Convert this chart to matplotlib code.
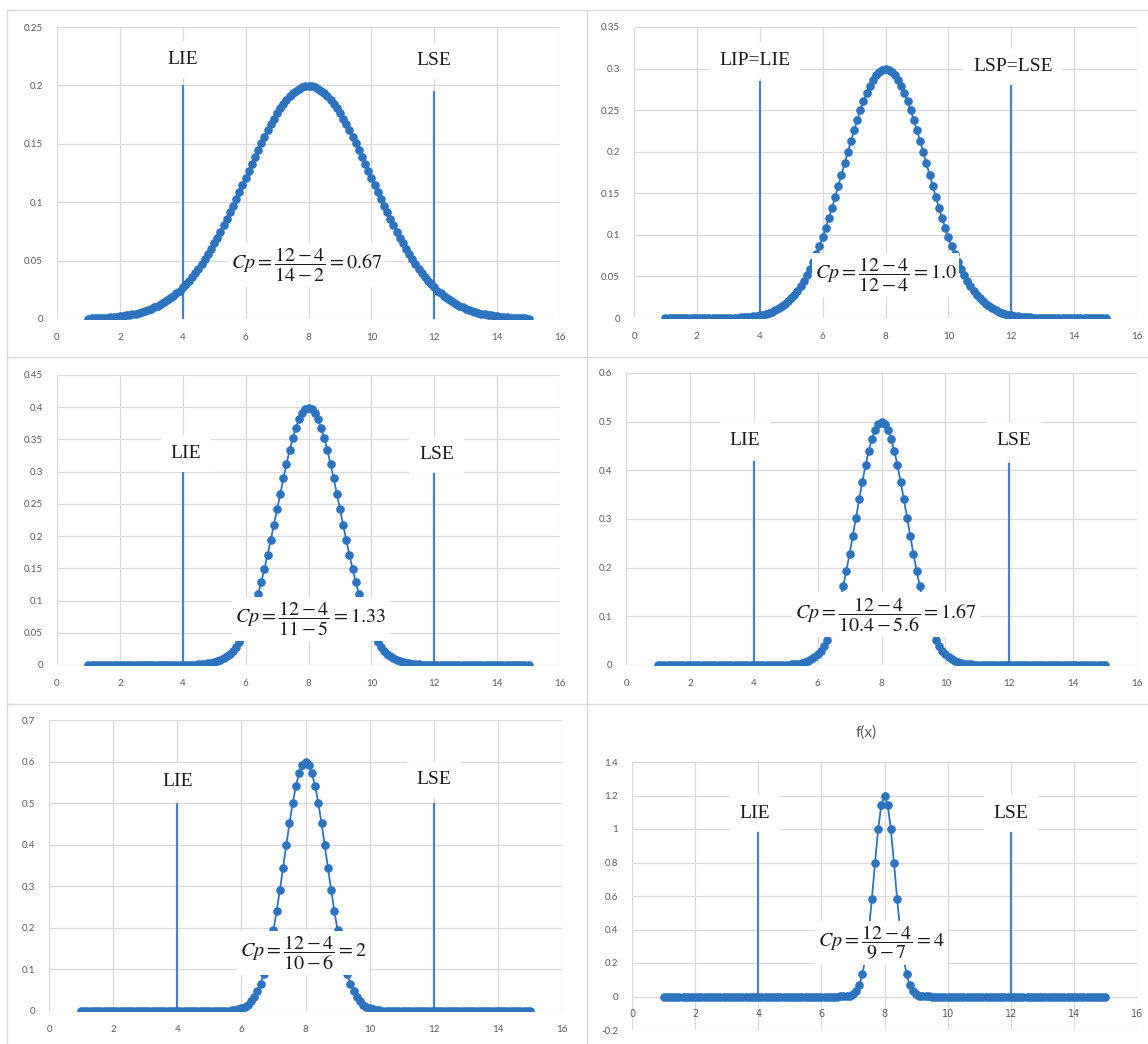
import matplotlib.pyplot as plt
from matplotlib.lines import Line2D
import numpy as np

plt.rcParams['mathtext.fontset'] = 'stix'

# x grid of the f(x) series (1 .. 15, every 0.1)
x_vals = np.linspace(1, 15, 141)

# f(x) values (mean 8)
fx_cp067 = [
    0.0004, 0.0005, 0.0006, 0.0007, 0.0009, 0.0010, 0.0012, 0.0014, 0.0016, 0.0019,
    0.0022, 0.0026, 0.0030, 0.0034, 0.0040, 0.0045, 0.0052, 0.0060, 0.0068, 0.0077,
    0.0088, 0.0099, 0.0112, 0.0126, 0.0142, 0.0159, 0.0177, 0.0198, 0.0220, 0.0244,
    0.0270, 0.0298, 0.0328, 0.0360, 0.0395, 0.0432, 0.0470, 0.0511, 0.0555, 0.0600,
    0.0648, 0.0697, 0.0749, 0.0802, 0.0857, 0.0913, 0.0971, 0.1030, 0.1089, 0.1150,
    0.1210, 0.1270, 0.1331, 0.1390, 0.1449, 0.1506, 0.1562, 0.1615, 0.1666, 0.1715,
    0.1760, 0.1803, 0.1842, 0.1877, 0.1907, 0.1934, 0.1956, 0.1973, 0.1985, 0.1992,
    0.1995,
    0.1992, 0.1985, 0.1973, 0.1956, 0.1934, 0.1907, 0.1877, 0.1842, 0.1803, 0.1760,
    0.1715, 0.1666, 0.1615, 0.1562, 0.1506, 0.1449, 0.1390, 0.1331, 0.1270, 0.1210,
    0.1150, 0.1089, 0.1030, 0.0971, 0.0913, 0.0857, 0.0802, 0.0749, 0.0697, 0.0648,
    0.0600, 0.0555, 0.0511, 0.0470, 0.0432, 0.0395, 0.0360, 0.0328, 0.0298, 0.0270,
    0.0244, 0.0220, 0.0198, 0.0177, 0.0159, 0.0142, 0.0126, 0.0112, 0.0099, 0.0088,
    0.0077, 0.0068, 0.0060, 0.0052, 0.0045, 0.0040, 0.0034, 0.0030, 0.0026, 0.0022,
    0.0019, 0.0016, 0.0014, 0.0012, 0.0010, 0.0009, 0.0007, 0.0006, 0.0005, 0.0004,
]
fx_cp1 = [
    0, 0, 0, 0, 0, 0, 0, 0, 0, 0,
    0, 0, 0, 0, 0, 0.0001, 0.0001, 0.0001, 0.0002, 0.0002,
    0.0003, 0.0004, 0.0005, 0.0006, 0.0008, 0.0010, 0.0013, 0.0016, 0.0021, 0.0026,
    0.0033, 0.0042, 0.0052, 0.0064, 0.0078, 0.0095, 0.0116, 0.0140, 0.0168, 0.0200,
    0.0238, 0.0281, 0.0330, 0.0385, 0.0447, 0.0516, 0.0592, 0.0676, 0.0767, 0.0866,
    0.0971, 0.1084, 0.1203, 0.1327, 0.1456, 0.1589, 0.1724, 0.1860, 0.1996, 0.2129,
    0.2258, 0.2382, 0.2499, 0.2607, 0.2704, 0.2789, 0.2860, 0.2917, 0.2959, 0.2984,
    0.2992,
    0.2984, 0.2959, 0.2917, 0.2860, 0.2789, 0.2704, 0.2607, 0.2499, 0.2382, 0.2258,
    0.2129, 0.1996, 0.1860, 0.1724, 0.1589, 0.1456, 0.1327, 0.1203, 0.1084, 0.0971,
    0.0866, 0.0767, 0.0676, 0.0592, 0.0516, 0.0447, 0.0385, 0.0330, 0.0281, 0.0238,
    0.0200, 0.0168, 0.0140, 0.0116, 0.0095, 0.0078, 0.0064, 0.0052, 0.0042, 0.0033,
    0.0026, 0.0021, 0.0016, 0.0013, 0.0010, 0.0008, 0.0006, 0.0005, 0.0004, 0.0003,
    0.0002, 0.0002, 0.0001, 0.0001, 0.0001, 0, 0, 0, 0, 0,
    0, 0, 0, 0, 0, 0, 0, 0, 0, 0,
]
fx_cp133 = [
    0, 0, 0, 0, 0, 0, 0, 0, 0, 0,
    0, 0, 0, 0, 0, 0, 0, 0, 0, 0,
    0, 0, 0, 0, 0, 0, 0, 0, 0, 0.0001,
    0.0001, 0.0002, 0.0003, 0.0004, 0.0006, 0.0009, 0.0012, 0.0017, 0.0024, 0.0033,
    0.0044, 0.0060, 0.0079, 0.0104, 0.0136, 0.0175, 0.0224, 0.0283, 0.0355, 0.0440,
    0.0540, 0.0656, 0.0790, 0.0940, 0.1109, 0.1295, 0.1497, 0.1714, 0.1942, 0.2179,
    0.2420, 0.2661, 0.2897, 0.3123, 0.3332, 0.3521, 0.3683, 0.3814, 0.3910, 0.3970,
    0.3989,
    0.3970, 0.3910, 0.3814, 0.3683, 0.3521, 0.3332, 0.3123, 0.2897, 0.2661, 0.2420,
    0.2179, 0.1942, 0.1714, 0.1497, 0.1295, 0.1109, 0.0940, 0.0790, 0.0656, 0.0540,
    0.0440, 0.0355, 0.0283, 0.0224, 0.0175, 0.0136, 0.0104, 0.0079, 0.0060, 0.0044,
    0.0033, 0.0024, 0.0017, 0.0012, 0.0009, 0.0006, 0.0004, 0.0003, 0.0002, 0.0001,
    0.0001, 0, 0, 0, 0, 0, 0, 0, 0, 0,
    0, 0, 0, 0, 0, 0, 0, 0, 0, 0,
    0, 0, 0, 0, 0, 0, 0, 0, 0, 0,
]
fx_cp167 = [
    0, 0, 0, 0, 0, 0, 0, 0, 0, 0,
    0, 0, 0, 0, 0, 0, 0, 0, 0, 0,
    0, 0, 0, 0, 0, 0, 0, 0, 0, 0,
    0, 0, 0, 0, 0, 0, 0.0001, 0.0001, 0.0002, 0.0003,
    0.0004, 0.0007, 0.0011, 0.0017, 0.0025, 0.0038, 0.0055, 0.0080, 0.0114, 0.0159,
    0.0219, 0.0297, 0.0397, 0.0522, 0.0675, 0.0860, 0.1079, 0.1332, 0.1619, 0.1938,
    0.2283, 0.2649, 0.3025, 0.3401, 0.3764, 0.4102, 0.4401, 0.4648, 0.4834, 0.4948,
    0.4987,
    0.4948, 0.4834, 0.4648, 0.4401, 0.4102, 0.3764, 0.3401, 0.3025, 0.2649, 0.2283,
    0.1938, 0.1619, 0.1332, 0.1079, 0.0860, 0.0675, 0.0522, 0.0397, 0.0297, 0.0219,
    0.0159, 0.0114, 0.0080, 0.0055, 0.0038, 0.0025, 0.0017, 0.0011, 0.0007, 0.0004,
    0.0003, 0.0002, 0.0001, 0.0001, 0, 0, 0, 0, 0, 0,
    0, 0, 0, 0, 0, 0, 0, 0, 0, 0,
    0, 0, 0, 0, 0, 0, 0, 0, 0, 0,
    0, 0, 0, 0, 0, 0, 0, 0, 0, 0,
]
fx_cp2 = [
    0, 0, 0, 0, 0, 0, 0, 0, 0, 0,
    0, 0, 0, 0, 0, 0, 0, 0, 0, 0,
    0, 0, 0, 0, 0, 0, 0, 0, 0, 0,
    0, 0, 0, 0, 0, 0, 0, 0, 0, 0,
    0, 0, 0.0001, 0.0002, 0.0003, 0.0005, 0.0009, 0.0016, 0.0026, 0.0042,
    0.0066, 0.0103, 0.0156, 0.0232, 0.0336, 0.0476, 0.0660, 0.0894, 0.1184, 0.1534,
    0.1943, 0.2406, 0.2913, 0.3448, 0.3991, 0.4517, 0.4998, 0.5408, 0.5721, 0.5917,
    0.5984,
    0.5917, 0.5721, 0.5408, 0.4998, 0.4517, 0.3991, 0.3448, 0.2913, 0.2406, 0.1943,
    0.1534, 0.1184, 0.0894, 0.0660, 0.0476, 0.0336, 0.0232, 0.0156, 0.0103, 0.0066,
    0.0042, 0.0026, 0.0016, 0.0009, 0.0005, 0.0003, 0.0002, 0.0001, 0, 0,
    0, 0, 0, 0, 0, 0, 0, 0, 0, 0,
    0, 0, 0, 0, 0, 0, 0, 0, 0, 0,
    0, 0, 0, 0, 0, 0, 0, 0, 0, 0,
    0, 0, 0, 0, 0, 0, 0, 0, 0, 0,
]
fx_cp4 = [
    0, 0, 0, 0, 0, 0, 0, 0, 0, 0,
    0, 0, 0, 0, 0, 0, 0, 0, 0, 0,
    0, 0, 0, 0, 0, 0, 0, 0, 0, 0,
    0, 0, 0, 0, 0, 0, 0, 0, 0, 0,
    0, 0, 0, 0, 0, 0, 0, 0, 0, 0,
    0, 0, 0, 0, 0, 0, 0.0002, 0.0006, 0.0018, 0.0052,
    0.0133, 0.0313, 0.0672, 0.1319, 0.2368, 0.3885, 0.5825, 0.7982, 0.9997, 1.1441,
    1.1968,
    1.1441, 0.9997, 0.7982, 0.5825, 0.3885, 0.2368, 0.1319, 0.0672, 0.0313, 0.0133,
    0.0052, 0.0018, 0.0006, 0.0002, 0, 0, 0, 0, 0, 0,
    0, 0, 0, 0, 0, 0, 0, 0, 0, 0,
    0, 0, 0, 0, 0, 0, 0, 0, 0, 0,
    0, 0, 0, 0, 0, 0, 0, 0, 0, 0,
    0, 0, 0, 0, 0, 0, 0, 0, 0, 0,
    0, 0, 0, 0, 0, 0, 0, 0, 0, 0,
]
series = [fx_cp067, fx_cp1, fx_cp133, fx_cp167, fx_cp2, fx_cp4]

# specification limits and their marker heights
lsl, usl = 4, 12
lower_heights = [0.2, 0.285, 0.3, 0.42, 0.5, 0.98]
upper_heights = [0.195, 0.285, 0.3, 0.415, 0.5, 0.98]
lower_labels = ['LIE', 'LIP=LIE', 'LIE', 'LIE', 'LIE', 'LIE']
upper_labels = ['LSE', 'LSP=LSE', 'LSE', 'LSE', 'LSE', 'LSE']
cp_texts = [
    r'$Cp = \dfrac{12-4}{14-2} = 0.67$',
    r'$Cp = \dfrac{12-4}{12-4} = 1.0$',
    r'$Cp = \dfrac{12-4}{11-5} = 1.33$',
    r'$Cp = \dfrac{12-4}{10.4-5.6} = 1.67$',
    r'$Cp = \dfrac{12-4}{10-6} = 2$',
    r'$Cp = \dfrac{12-4}{9-7} = 4$',
]

x_ticks = [0, 2, 4, 6, 8, 10, 12, 14, 16]
y_ticks = [
    [0, 0.05, 0.1, 0.15, 0.2, 0.25],
    [0, 0.05, 0.1, 0.15, 0.2, 0.25, 0.3, 0.35],
    [0, 0.05, 0.1, 0.15, 0.2, 0.25, 0.3, 0.35, 0.4, 0.45],
    [0, 0.1, 0.2, 0.3, 0.4, 0.5, 0.6],
    [0, 0.1, 0.2, 0.3, 0.4, 0.5, 0.6, 0.7],
    [-0.2, 0, 0.2, 0.4, 0.6, 0.8, 1, 1.2, 1.4],
]

# layout in pixels: axes box (left, top, right, bottom), label / formula spots
W, H = 1148, 1044
boxes = [(57, 27, 560, 319), (634, 27, 1137, 318),
         (57, 375, 560, 665), (626, 373, 1137, 665),
         (49, 720, 562, 1011), (632, 762, 1137, 1030)]
lower_pos = [(4.0, 0.222), (3.85, 0.310), (4.1, 0.3285), (3.73, 0.462), (4.0, 0.552), (3.9, 1.094)]
upper_pos = [(12.0, 0.221), (12.05, 0.302), (12.07, 0.326), (12.13, 0.462), (12.0, 0.556), (12.0, 1.095)]
cp_pos = [(7.94, 0.046), (8.0, 0.052), (8.06, 0.071), (8.14, 0.104), (7.92, 0.14), (7.9, 0.32)]

blue = '#2E73BE'
line_blue = '#4A80C6'
grid_grey = '#D9D9D9'
label_grey = '#595959'

fig = plt.figure(figsize=(W / 100, H / 100), dpi=100)

# sheet / chart borders
border_lines = [((7, 1148), (10, 10)), ((7, 7), (10, 1044)),
                ((7, 1148), (357, 357)), ((7, 1148), (704, 704)),
                ((587, 587), (10, 1044))]
for xs, ys in border_lines:
    fig.add_artist(Line2D([v / W for v in xs], [1 - v / H for v in ys],
                          transform=fig.transFigure, color=grid_grey, lw=1))

for i, (l, t, r, b) in enumerate(boxes):
    ax = fig.add_axes([l / W, 1 - b / H, (r - l) / W, (b - t) / H])
    ticks = y_ticks[i]
    ax.set_xlim(0, 16)
    ax.set_ylim(ticks[0], ticks[-1])
    ax.set_xticks(x_ticks)
    ax.set_xticklabels([str(v) for v in x_ticks])
    ax.set_yticks(ticks)
    ax.set_yticklabels(['%g' % v for v in ticks])
    ax.grid(True, color=grid_grey, lw=0.9)
    ax.set_axisbelow(True)
    for s in ax.spines.values():
        s.set_visible(False)
    ax.tick_params(length=0, labelsize=7, labelcolor=label_grey)
    ax.tick_params(axis='y', pad=10)
    ax.tick_params(axis='x', pad=10)
    for lab in ax.get_xticklabels() + ax.get_yticklabels():
        lab.set_family('Lato')
    if ticks[0] < 0:
        ax.spines['bottom'].set_visible(True)
        ax.spines['bottom'].set_position(('data', 0))
        ax.spines['bottom'].set_color(grid_grey)
        ax.tick_params(axis='x', pad=9)

    ax.vlines([lsl], 0, lower_heights[i], color=line_blue, lw=1.6, zorder=2)
    ax.vlines([usl], 0, upper_heights[i], color=line_blue, lw=1.6, zorder=2)
    ax.plot(x_vals, series[i], '-o', color=blue, lw=1.3, ms=5.2, zorder=3)

    for txt, (tx, ty) in ((lower_labels[i], lower_pos[i]), (upper_labels[i], upper_pos[i])):
        ax.text(tx, ty, txt, ha='center', va='center', fontsize=14,
                family='Liberation Serif', color='#1a1a1a', zorder=5,
                bbox=dict(boxstyle='square,pad=0.5', fc='white', ec='none'))
    cx, cy = cp_pos[i]
    ax.text(cx, cy, cp_texts[i], ha='center', va='center', fontsize=14.5,
            color='#1a1a1a', zorder=6,
            bbox=dict(boxstyle='square,pad=0.15', fc='white', ec='none'))

fig.text(866 / W, 1 - 733 / H, 'f(x)', ha='center', va='center', fontsize=11,
         color=label_grey, family='Lato')

fig.savefig('out.png', dpi=100, facecolor='white')
